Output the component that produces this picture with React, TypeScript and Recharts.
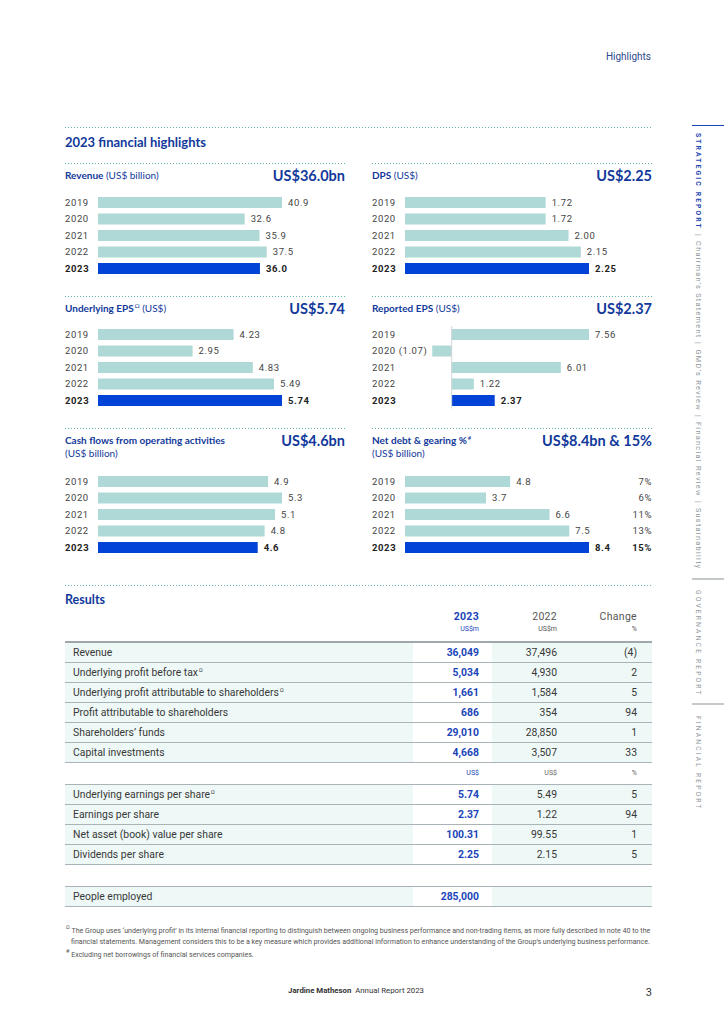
import React from 'react';
import { BarChart, Bar, XAxis, YAxis, Cell, LabelList, ReferenceLine } from 'recharts';

// five-year figures
const YEARS = ['2019', '2020', '2021', '2022', '2023'];
const REVENUE = [40.9, 32.6, 35.9, 37.5, 36.0];
const DPS = [1.72, 1.72, 2.0, 2.15, 2.25];
const UNDERLYING_EPS = [4.23, 2.95, 4.83, 5.49, 5.74];
const REPORTED_EPS = [7.56, -1.07, 6.01, 1.22, 2.37];
const CASH_FLOWS = [4.9, 5.3, 5.1, 4.8, 4.6];
const NET_DEBT = [4.8, 3.7, 6.6, 7.5, 8.4];
const GEARING = [7, 6, 11, 13, 15];

// results table
const RESULT_ROWS = [
  'Revenue',
  'Underlying profit before tax',
  'Underlying profit attributable to shareholders',
  'Profit attributable to shareholders',
  'Shareholders\u2019 funds',
  'Capital investments',
];
const RESULT_MARKS = ['', '\u03A9', '\u03A9', '', '', ''];
const RESULT_2023 = ['36,049', '5,034', '1,661', '686', '29,010', '4,668'];
const RESULT_2022 = ['37,496', '4,930', '1,584', '354', '28,850', '3,507'];
const RESULT_CHANGE = ['(4)', '2', '5', '94', '1', '33'];

const SHARE_ROWS = [
  'Underlying earnings per share',
  'Earnings per share',
  'Net asset (book) value per share',
  'Dividends per share',
];
const SHARE_MARKS = ['\u03A9', '', '', ''];
const SHARE_2023 = ['5.74', '2.37', '100.31', '2.25'];
const SHARE_2022 = ['5.49', '1.22', '99.55', '2.15'];
const SHARE_CHANGE = ['5', '94', '1', '5'];

const PEOPLE_EMPLOYED = '285,000';

const NAVY = '#12399b';
const BRIGHT = '#0043d6';
const LIGHT = '#aed9d7';
const TEAL_DOT = '#5fb4af';
const BODY = "Roboto, 'Open Sans', sans-serif";
const HEAD = "Lato, 'Open Sans', sans-serif";
const PANEL_W = 280;

const Dotted = ({ x, y, w }: { x: number; y: number; w: number }) => (
  <div
    style={{
      position: 'absolute', left: x, top: y, width: w, height: 1.5,
      backgroundImage: `linear-gradient(to right, ${TEAL_DOT} 50%, transparent 50%)`,
      backgroundSize: '3px 1.5px',
    }}
  />
);

const Mark = ({ m, size = 6 }: { m: string; size?: number }) => (
  <span style={{ fontSize: size, lineHeight: 0, position: 'relative', top: -4, marginLeft: 1 }}>{m}</span>
);

type PanelProps = {
  x: number;
  y: number;
  chartTop: number;
  title: string;
  mark?: string;
  unit: string;
  unitBelow?: boolean;
  headline: string;
  values: number[];
  decimals: number;
  domainMin?: number;
  gearing?: number[];
};

function Panel({ x, y, chartTop, title, mark, unit, unitBelow, headline, values, decimals, domainMin, gearing }: PanelProps) {
  const data = YEARS.map((year, i) => ({ year, value: values[i] }));
  const tickLabels = YEARS.map((year, i) =>
    values[i] < 0 ? `${year} (${Math.abs(values[i]).toFixed(decimals)})` : year
  );

  const yearTick = (p: any) => (
    <text
      x={0} y={p.y} dy="0.35em" textAnchor="start"
      fontFamily={BODY} fontSize={9.5} letterSpacing={0.6}
      fill={p.index === 4 ? '#222' : '#444'} fontWeight={p.index === 4 ? 700 : 400}
    >
      {tickLabels[p.index]}
    </text>
  );

  const gearingTick = (p: any) => (
    <text
      x={PANEL_W} y={p.y} dy="0.35em" textAnchor="end"
      fontFamily={BODY} fontSize={9.5} letterSpacing={0.6}
      fill={p.index === 4 ? '#222' : '#444'} fontWeight={p.index === 4 ? 700 : 400}
    >
      {gearing ? `${gearing[p.index]}%` : ''}
    </text>
  );

  const valueLabel = (p: any) => {
    if (p.value < 0) return null;
    const bold = p.index === 4;
    return (
      <text
        x={p.x + p.width + 6} y={p.y + p.height / 2} dy="0.35em" textAnchor="start"
        fontFamily={BODY} fontSize={9.5} letterSpacing={0.6}
        fill={bold ? '#222' : '#444'} fontWeight={bold ? 700 : 400}
      >
        {Number(p.value).toFixed(decimals)}
      </text>
    );
  };

  return (
    <>
      <Dotted x={x} y={y} w={PANEL_W} />
      <div
        style={{
          position: 'absolute', left: x, top: y + 6, width: 200,
          fontFamily: HEAD, fontSize: 10, lineHeight: '13.5px', color: NAVY,
        }}
      >
        <span style={{ fontWeight: 700 }}>{title}</span>
        {mark && <Mark m={mark} />}
        {unitBelow ? <br /> : ' '}
        <span>{unit}</span>
      </div>
      <div
        style={{
          position: 'absolute', left: x, top: y + 4, width: PANEL_W, textAlign: 'right',
          fontFamily: HEAD, fontWeight: 700, fontSize: 14.5, lineHeight: '18px', color: NAVY,
        }}
      >
        {headline}
      </div>
      <div style={{ position: 'absolute', left: x, top: chartTop }}>
        <BarChart
          width={PANEL_W} height={82.5} data={data} layout="vertical"
          margin={{ top: 0, right: gearing ? 0 : 63, bottom: 0, left: 0 }}
        >
          <XAxis type="number" hide domain={[domainMin ?? 0, 'dataMax']} />
          <YAxis
            yAxisId="l" type="category" dataKey="year" width={33}
            axisLine={false} tickLine={false} interval={0} tick={yearTick}
          />
          {gearing && (
            <YAxis
              yAxisId="r" orientation="right" type="category" dataKey="year" width={63}
              axisLine={false} tickLine={false} interval={0} tick={gearingTick}
            />
          )}
          {domainMin !== undefined && <ReferenceLine yAxisId="l" x={0} stroke="#cfd5d7" strokeWidth={1} />}
          <Bar yAxisId="l" dataKey="value" barSize={11} isAnimationActive={false}>
            {data.map((d, i) => (
              <Cell key={d.year} fill={i === 4 ? BRIGHT : LIGHT} />
            ))}
            <LabelList dataKey="value" content={valueLabel} />
          </Bar>
        </BarChart>
      </div>
    </>
  );
}

const ROW_BG = '#eef8f7';
const LINE = '1.5px solid #aab3b7';

function TableRow({ label, mark, a, b, c, top }: { label: string; mark?: string; a: string; b: string; c: string; top?: boolean }) {
  const cell = { height: 19, lineHeight: '19px', fontSize: 10.4, color: '#383838' } as React.CSSProperties;
  return (
    <div style={{ display: 'flex', borderBottom: LINE, borderTop: top ? LINE : undefined, fontFamily: BODY }}>
      <div style={{ ...cell, width: 340, paddingLeft: 8, background: ROW_BG, whiteSpace: 'nowrap' }}>
        {label}
        {mark && <Mark m={mark} size={5.5} />}
      </div>
      <div style={{ ...cell, width: 66, paddingRight: 13, textAlign: 'right', color: '#1a44b8', fontWeight: 700, background: '#fff' }}>{a}</div>
      <div style={{ ...cell, width: 65, paddingRight: 15, textAlign: 'right', background: ROW_BG }}>{b}</div>
      <div style={{ ...cell, width: 65, paddingRight: 15, textAlign: 'right', background: ROW_BG }}>{c}</div>
    </div>
  );
}

function UnitsRow({ a, b, c, h }: { a: string; b: string; c: string; h: number }) {
  const unit = { fontSize: 7, lineHeight: '9px' } as React.CSSProperties;
  return (
    <div style={{ display: 'flex', height: h, alignItems: 'center', fontFamily: BODY, borderBottom: LINE }}>
      <div style={{ width: 348 }} />
      <div style={{ ...unit, width: 66, paddingRight: 13, textAlign: 'right', color: '#1a44b8' }}>{a}</div>
      <div style={{ ...unit, width: 65, paddingRight: 15, textAlign: 'right', color: '#666' }}>{b}</div>
      <div style={{ ...unit, width: 65, paddingRight: 15, textAlign: 'right', color: '#666' }}>{c}</div>
    </div>
  );
}

function ResultsTable() {
  return (
    <div style={{ position: 'absolute', left: 65, top: 610, width: 587 }}>
      <div style={{ display: 'flex', height: 31, borderBottom: '2px solid #9ea7ab', fontFamily: BODY }}>
        <div style={{ width: 348 }} />
        {[
          ['2023', 'US$m', '#1a44b8', 700, 13],
          ['2022', 'US$m', '#555', 400, 15],
          ['Change', '%', '#555', 400, 15],
        ].map(([h, u, col, w, pad], i) => (
          <div key={i} style={{ width: 79 - (pad as number) + (i ? 1 : 0), paddingRight: pad as number, textAlign: 'right', color: col as string }}>
            <div style={{ fontSize: 10.5, lineHeight: '14px', fontWeight: w as number, letterSpacing: 0.3 }}>{h}</div>
            <div style={{ fontSize: 7, lineHeight: '10px' }}>{u}</div>
          </div>
        ))}
      </div>
      {RESULT_ROWS.map((r, i) => (
        <TableRow key={r} label={r} mark={RESULT_MARKS[i]} a={RESULT_2023[i]} b={RESULT_2022[i]} c={RESULT_CHANGE[i]} />
      ))}
      <UnitsRow a="US$" b="US$" c="%" h={20.5} />
      {SHARE_ROWS.map((r, i) => (
        <TableRow key={r} label={r} mark={SHARE_MARKS[i]} a={SHARE_2023[i]} b={SHARE_2022[i]} c={SHARE_CHANGE[i]} />
      ))}
      <div style={{ height: 21 }} />
      <TableRow label="People employed" a={PEOPLE_EMPLOYED} b="" c="" top />
    </div>
  );
}

function SideNav() {
  const vert = {
    position: 'absolute', left: 692, width: 12, writingMode: 'vertical-rl',
    fontFamily: BODY, lineHeight: '12px', whiteSpace: 'nowrap',
  } as React.CSSProperties;
  const sep = <span style={{ margin: '4px 0', display: 'inline-block' }}>|</span>;
  return (
    <>
      <div style={{ position: 'absolute', left: 692, top: 124.5, width: 32, height: 1.5, background: '#1f47b0' }} />
      <div style={{ ...vert, top: 133 }}>
        <span style={{ fontSize: 6.8, fontWeight: 700, letterSpacing: 2.1, color: '#1f47b0' }}>STRATEGIC REPORT</span>
        <span style={{ fontSize: 7.3, letterSpacing: 1.3, color: '#8f989c' }}>
          {sep}Chairman’s Statement{sep}GMD’s Review{sep}Financial Review{sep}Sustainability
        </span>
      </div>
      <div style={{ position: 'absolute', left: 692, top: 578, width: 32, height: 1.5, background: '#c3c8ca' }} />
      <div style={{ ...vert, top: 590, fontSize: 6.8, letterSpacing: 2.1, color: '#8f989c' }}>GOVERNANCE REPORT</div>
      <div style={{ position: 'absolute', left: 692, top: 703, width: 32, height: 1.5, background: '#c3c8ca' }} />
      <div style={{ ...vert, top: 716, fontSize: 6.8, letterSpacing: 2.1, color: '#8f989c' }}>FINANCIAL REPORT</div>
    </>
  );
}

export default function App() {
  return (
    <div style={{ position: 'absolute', left: 0, top: 0, width: 724, height: 1024, background: '#fff', overflow: 'hidden' }}>
      <div style={{ position: 'absolute', right: 73, top: 51, fontFamily: BODY, fontSize: 10, color: '#2d4a8f' }}>Highlights</div>

      <Dotted x={65} y={126.5} w={587} />
      <div style={{ position: 'absolute', left: 65, top: 134, fontFamily: HEAD, fontWeight: 700, fontSize: 13, color: NAVY }}>
        2023 financial highlights
      </div>

      <Panel x={65} y={162.5} chartTop={193.5} title="Revenue" unit="(US$ billion)" headline="US$36.0bn" values={REVENUE} decimals={1} />
      <Panel x={372} y={162.5} chartTop={193.5} title="DPS" unit="(US$)" headline="US$2.25" values={DPS} decimals={2} />
      <Panel x={65} y={295.5} chartTop={326} title="Underlying EPS" mark={'\u03A9'} unit="(US$)" headline="US$5.74" values={UNDERLYING_EPS} decimals={2} />
      <Panel x={372} y={295.5} chartTop={326} title="Reported EPS" unit="(US$)" headline="US$2.37" values={REPORTED_EPS} decimals={2} domainMin={-2.57} />
      <Panel x={65} y={427.5} chartTop={472.5} title="Cash flows from operating activities" unit="(US$ billion)" unitBelow headline="US$4.6bn" values={CASH_FLOWS} decimals={1} />
      <Panel x={372} y={427.5} chartTop={472.5} title="Net debt & gearing %" mark="#" unit="(US$ billion)" unitBelow headline="US$8.4bn & 15%" values={NET_DEBT} decimals={1} gearing={GEARING} />

      <Dotted x={65} y={584.5} w={587} />
      <div style={{ position: 'absolute', left: 65, top: 592, fontFamily: HEAD, fontWeight: 700, fontSize: 12.5, color: NAVY }}>Results</div>
      <ResultsTable />

      <div style={{ position: 'absolute', left: 65, top: 925, width: 600, fontFamily: BODY, fontSize: 7.1, lineHeight: '11px', color: '#555', whiteSpace: 'nowrap' }}>
        <div>
          <Mark m="Ω" size={5.5} /> The Group uses ‘underlying profit’ in its internal financial reporting to distinguish between ongoing business performance and non-trading items, as more fully described in note 40 to the
        </div>
        <div style={{ paddingLeft: 6 }}>
          financial statements. Management considers this to be a key measure which provides additional information to enhance understanding of the Group’s underlying business performance.
        </div>
        <div style={{ marginTop: 2 }}>
          <Mark m="#" size={5.5} /> Excluding net borrowings of financial services companies.
        </div>
      </div>

      <div style={{ position: 'absolute', left: 0, width: 712, top: 986, textAlign: 'center', fontFamily: BODY, fontSize: 7.8, color: '#333' }}>
        <span style={{ fontWeight: 700 }}>Jardine Matheson</span>&nbsp; Annual Report 2023
      </div>
      <div style={{ position: 'absolute', right: 72, top: 986, fontFamily: BODY, fontSize: 11, color: '#333' }}>3</div>

      <SideNav />
    </div>
  );
}
